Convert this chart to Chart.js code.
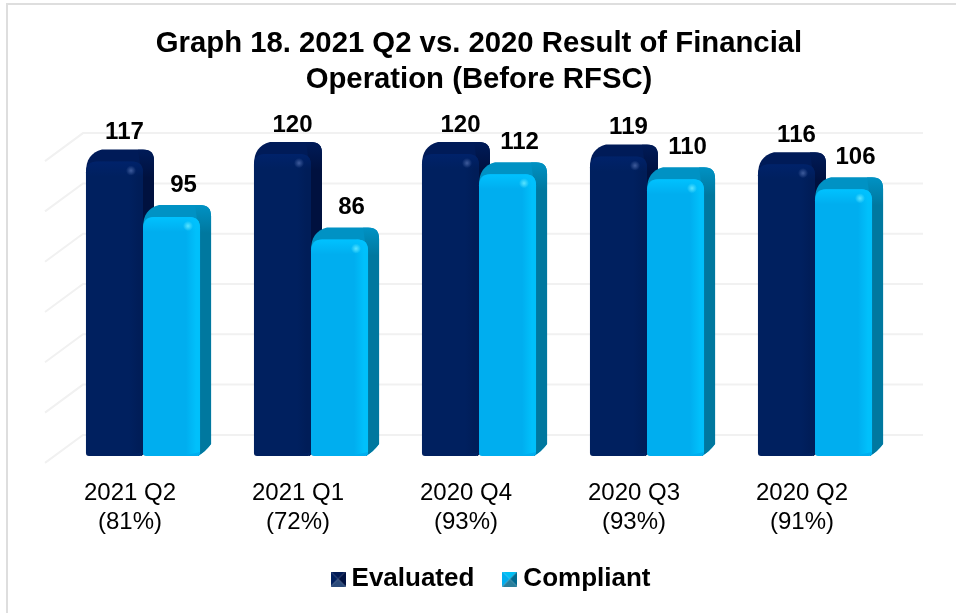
<!DOCTYPE html>
<html><head><meta charset="utf-8">
<style>html,body{margin:0;padding:0;background:#fff}#w{position:relative;width:956px;height:613px;overflow:hidden}canvas{display:block}
#f{position:absolute;left:6px;top:3px;width:960px;height:640px;border:2px solid #dedede;box-sizing:border-box;pointer-events:none}</style>
<script src="https://cdn.jsdelivr.net/npm/chart.js@4/dist/chart.umd.min.js"></script>
</head><body><div id="w"><canvas id="c" width="956" height="613"></canvas><div id="f"></div></div>
<script>
const categories=[["2021 Q2","(81%)"],["2021 Q1","(72%)"],["2020 Q4","(93%)"],["2020 Q3","(93%)"],["2020 Q2","(91%)"]];
const evaluated=[117,120,120,119,116];
const compliant=[95,86,112,110,106];
const titleLines=["Graph 18. 2021 Q2 vs. 2020 Result of Financial","Operation (Before RFSC)"];
const FONT='"Liberation Sans", Arial, sans-serif';
const palettes=[
 {front:'#00205f',top:'#001b58',side:'#00113f',bevel:'#00226a',hi:'#3f5c9c',rim:'#001d58',mb:'#2a4a7a',ml:'#00205f',mt:'#001a55',mr:'#001140'},
 {front:'#00aeef',top:'#0092c4',side:'#00789f',bevel:'#00c2ff',hi:'#5ae4ff',rim:'#00c0fb',mb:'#2a7f9c',ml:'#00aeef',mt:'#00c0f5',mr:'#006a90'}
];
const DX=11,DY=12,R=11;
function marker(p){const s=15,c=document.createElement('canvas');c.width=s;c.height=s;const g=c.getContext('2d');
 const t=(pts,col)=>{g.fillStyle=col;g.beginPath();pts.forEach((q,i)=>i?g.lineTo(q[0],q[1]):g.moveTo(q[0],q[1]));g.closePath();g.fill();};
 const m=[s/2,s/2];
 t([[0,0],[s,0],m],p.mt);t([[s,0],[s,s],m],p.mr);t([[0,0],[0,s],m],p.ml);t([[0,s],[s,s],m],p.mb);return c;}
function back(ctx,x0,x1,top,base){
 ctx.beginPath();ctx.moveTo(x0,top+R);
 ctx.bezierCurveTo(x0,top-2,x0+5,top-9,x0+16,top-DY);
 ctx.lineTo(x1+DX-R,top-DY);
 ctx.quadraticCurveTo(x1+DX,top-DY,x1+DX,top-DY+R);
 ctx.lineTo(x1+DX,base-DY);ctx.quadraticCurveTo(x1+6,base-5,x1-2,base);ctx.closePath();}
const plugin3d={id:'p3d',
 afterLayout(chart){const l=chart.legend;l.left+=15;l.right+=15;l.top-=21;l.bottom-=21;},
 beforeDatasetDraw(){return false;},
 beforeDatasetsDraw(chart){
  const {ctx,scales:{y}}=chart;
  ctx.save();ctx.strokeStyle='#f1f1f1';ctx.lineWidth=2;
  y.ticks.forEach(t=>{const p=y.getPixelForValue(t.value);
   ctx.beginPath();ctx.moveTo(45,p+7);ctx.lineTo(83,p-21);ctx.lineTo(923,p-21);ctx.stroke();});
  ctx.restore();
 },
 afterDatasetsDraw(chart){
  const {ctx}=chart;
  chart.data.datasets.forEach((ds,di)=>{
   const meta=chart.getDatasetMeta(di),p=palettes[di];
   meta.data.forEach(el=>{const x0=el.x-el.width/2,x1=el.x+el.width/2;
    ctx.save();back(ctx,x0,x1,el.y,el.base);ctx.fillStyle=p.top;ctx.fill();
    const g=ctx.createLinearGradient(0,el.y-DY,0,el.y+16);g.addColorStop(0,p.top);g.addColorStop(1,p.side);
    ctx.clip();
    ctx.beginPath();ctx.moveTo(x1-3,el.y+3);ctx.lineTo(x1-5,el.y-DY);ctx.lineTo(x1+DX+1,el.y-DY);ctx.lineTo(x1+DX+1,el.base);ctx.lineTo(x1-2,el.base);ctx.closePath();
    ctx.fillStyle=g;ctx.fill();ctx.restore();});
   meta.controller.draw();
   meta.data.forEach(el=>{const x0=el.x-el.width/2,x1=el.x+el.width/2;
    ctx.save();
    let g=ctx.createLinearGradient(x1-14,0,x1-4,0);g.addColorStop(0,p.front);g.addColorStop(1,p.rim);
    ctx.fillStyle=g;ctx.beginPath();ctx.moveTo(x1-14,el.y+2);ctx.lineTo(x1-R,el.y);ctx.quadraticCurveTo(x1,el.y,x1,el.y+R);ctx.lineTo(x1,el.base-4);ctx.lineTo(x1-14,el.base-1);ctx.closePath();ctx.fill();
    g=ctx.createLinearGradient(0,el.y,0,el.y+15);g.addColorStop(0,p.bevel);g.addColorStop(1,p.bevel+'00');
    ctx.fillStyle=g;ctx.beginPath();ctx.moveTo(x0,el.y+15);ctx.lineTo(x0,el.y+R);ctx.quadraticCurveTo(x0,el.y,x0+R,el.y);ctx.lineTo(x1-R,el.y);ctx.quadraticCurveTo(x1,el.y,x1,el.y+R);ctx.lineTo(x1,el.y+15);ctx.closePath();ctx.fill();
    g=ctx.createRadialGradient(x1-12,el.y+9,0,x1-12,el.y+9,5);g.addColorStop(0,p.hi);g.addColorStop(1,p.hi+'00');
    ctx.fillStyle=g;ctx.fillRect(x1-18,el.y+3,12,12);
    ctx.restore();});
  });
  ctx.save();ctx.fillStyle='#000';ctx.font='bold 24px '+FONT;ctx.textAlign='center';ctx.textBaseline='middle';
  chart.data.datasets.forEach((ds,di)=>{chart.getDatasetMeta(di).data.forEach((el,i)=>{
    ctx.fillText(String(ds.data[i]),el.x+(di?12:10),el.y-(di?32:29));});});
  ctx.restore();
 }
};
const radius={topLeft:R,topRight:R,bottomLeft:3,bottomRight:3};
new Chart(document.getElementById('c'),{
 type:'bar',
 data:{labels:categories,datasets:[
  {label:'Evaluated',data:evaluated,backgroundColor:palettes[0].front,borderRadius:radius,borderSkipped:false},
  {label:'Compliant',data:compliant,backgroundColor:palettes[1].front,borderRadius:radius,borderSkipped:false}
 ]},
 plugins:[plugin3d],
 options:{responsive:false,animation:false,devicePixelRatio:1,
  layout:{padding:{left:59,right:57,top:0,bottom:-10}},
  categoryPercentage:.679,barPercentage:1,
  scales:{
   x:{grid:{display:false},border:{display:false},
      ticks:{color:'#000',font:{family:FONT,size:24,lineHeight:1.21},labelOffset:-13,padding:15,maxRotation:0,autoSkip:false}},
   y:{display:true,min:0,max:120,position:'left',afterFit(s){s.width=0;},
      grid:{display:false},border:{display:false},ticks:{display:false,stepSize:20}}
  },
  plugins:{
   tooltip:{enabled:false},
   title:{display:true,text:titleLines,color:'#000',font:{family:FONT,size:29.3,weight:'bold',lineHeight:1.23},padding:{top:26,bottom:56}},
   legend:{position:'bottom',labels:{color:'#000',font:{family:FONT,size:26,weight:'bold'},usePointStyle:true,padding:35,boxWidth:1,boxHeight:15,
     generateLabels(chart){return chart.data.datasets.map((d,i)=>({text:d.label,fillStyle:d.backgroundColor,strokeStyle:d.backgroundColor,lineWidth:0,datasetIndex:i,pointStyle:marker(palettes[i]),fontColor:'#000'}));}}}
  }
 }
});
</script></body></html>
